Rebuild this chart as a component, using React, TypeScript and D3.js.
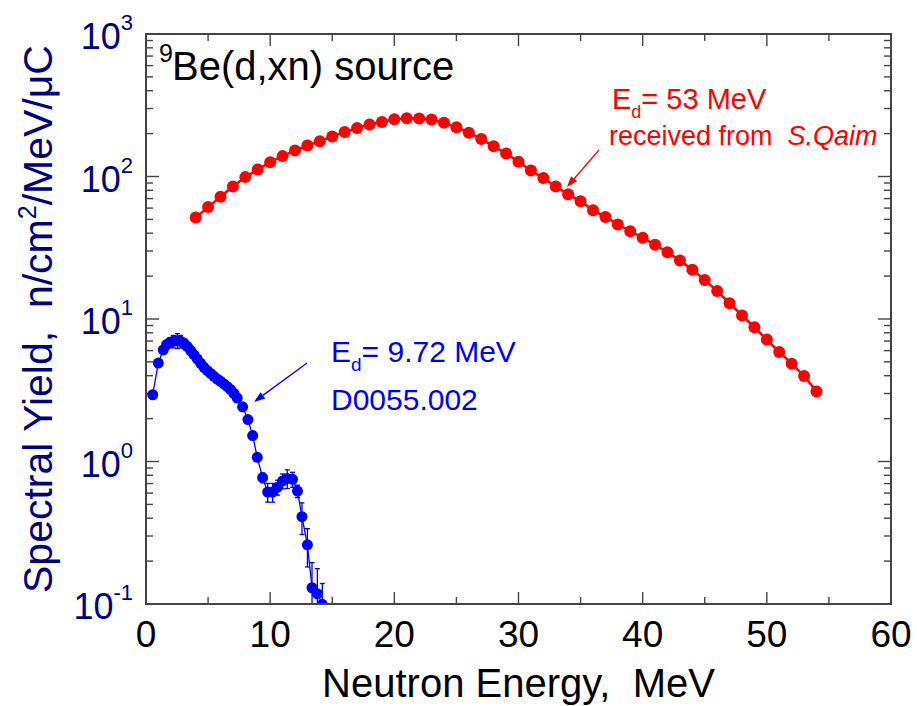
import React from 'react';
import * as d3 from 'd3';

// E_d = 53 MeV spectrum (received from S.Qaim)
const redEnergy = [4, 5, 6, 7, 8, 9, 10, 11, 12, 13, 14, 15, 16, 17, 18, 19, 20, 21, 22, 23, 24, 25, 26, 27, 28, 29,
  30, 31, 32, 33, 34, 35, 36, 37, 38, 39, 40, 41, 42, 43, 44, 45, 46, 47, 48, 49, 50, 51, 52, 53, 54];
const redYield = [51.6, 61, 72, 85, 99, 112, 126, 139, 152, 165, 177, 191, 205, 219, 232, 241, 252, 256, 255, 251,
  238, 222, 203, 183, 163, 145, 127, 110, 97.5, 85, 75, 67, 58, 52, 46.1, 41.3, 37.1, 33.2, 29.4, 25.7, 22.2, 18.8,
  15.7, 12.9, 10.6, 8.75, 7.17, 5.87, 4.86, 3.98, 3.1];

// E_d = 9.72 MeV, D0055.002
const blueEnergy = [0.54, 0.99, 1.39, 1.66, 1.93, 2.2, 2.52, 2.79, 3.06, 3.33, 3.6, 3.86, 4.13, 4.4, 4.67, 4.94, 5.21,
  5.47, 5.74, 6.01, 6.28, 6.55, 6.82, 7.09, 7.35, 7.78, 8.21, 8.59, 8.96, 9.39, 9.8, 10.2, 10.6, 11.0, 11.38, 11.8,
  12.2, 12.56, 13.0, 13.37, 13.8, 14.2];
const blueYield = [2.94, 4.91, 6.07, 6.61, 6.86, 6.97, 7.05, 6.97, 6.75, 6.4, 6.0, 5.62, 5.25, 4.89, 4.58, 4.34, 4.15,
  3.96, 3.79, 3.65, 3.5, 3.35, 3.19, 3.0, 2.79, 2.42, 1.97, 1.52, 1.07, 0.77, 0.61, 0.61, 0.66, 0.73, 0.76, 0.75,
  0.62, 0.41, 0.26, 0.13, 0.118, 0.0995];
// relative uncertainty of each blue point
const blueErr = [0.05, 0.04, 0.04, 0.05, 0.08, 0.1, 0.12, 0.1, 0.08, 0.05, 0.03, 0.03, 0.03, 0.03, 0.03, 0.03, 0.03,
  0.03, 0.03, 0.03, 0.03, 0.03, 0.03, 0.03, 0.03, 0.03, 0.03, 0.04, 0.06, 0.08, 0.15, 0.15, 0.12, 0.12, 0.15, 0.12,
  0.1, 0.25, 0.3, 0.5, 0.5, 0.4];

const xTicks = [0, 10, 20, 30, 40, 50, 60];
const xMinor = [5, 15, 25, 35, 45, 55];
const yDecades = [-1, 0, 1, 2, 3];

const W = 917;
const H = 706;
const left = 146, right = 891, top = 34, bottom = 604;
const font = '"Liberation Sans", Arial, Helvetica, sans-serif';
const navy = '#000080';
const frame = '#444';

const App = () => {
  const x = d3.scaleLinear().domain([0, 60]).range([left, right]);
  const y = d3.scaleLog().domain([0.1, 1000]).range([bottom, top]);

  const red = redEnergy.map((e, i) => ({ e, v: redYield[i] }));
  const blue = blueEnergy.map((e, i) => ({ e, v: blueYield[i], r: blueErr[i] }));

  const line = d3.line<{ e: number; v: number }>()
    .x(d => x(d.e))
    .y(d => y(d.v));

  // log minor ticks 2..9 in every decade
  const yMinor: number[] = [];
  yDecades.slice(0, -1).forEach(p => {
    for (let k = 2; k <= 9; k++) yMinor.push(k * Math.pow(10, p));
  });

  const arrow = (x1: number, y1: number, x2: number, y2: number, color: string) => {
    const ang = Math.atan2(y2 - y1, x2 - x1);
    const len = 11, hw = 4;
    const bx = x2 - len * Math.cos(ang), by = y2 - len * Math.sin(ang);
    const px = -Math.sin(ang) * hw, py = Math.cos(ang) * hw;
    return (
      <g>
        <line x1={x1} y1={y1} x2={bx} y2={by} stroke={color} strokeWidth={1.3} />
        <path d={`M${x2},${y2}L${bx + px},${by + py}L${bx - px},${by - py}Z`} fill={color} />
      </g>
    );
  };

  return (
    <svg width={W} height={H} style={{ position: 'absolute', left: 0, top: 0, background: '#fff' }}
      fontFamily={font}>
      <defs>
        <clipPath id="plot">
          <rect x={left} y={top} width={right - left} height={bottom - top} />
        </clipPath>
      </defs>
      <rect x={0} y={0} width={W} height={H} fill="#fff" />

      {/* ticks */}
      <g stroke={frame} strokeWidth={1.4}>
        {xTicks.map(t => (
          <g key={'xt' + t}>
            <line x1={x(t)} x2={x(t)} y1={bottom} y2={bottom - 12} />
            <line x1={x(t)} x2={x(t)} y1={top} y2={top + 12} />
          </g>
        ))}
        {xMinor.map(t => (
          <g key={'xm' + t}>
            <line x1={x(t)} x2={x(t)} y1={bottom} y2={bottom - 7} />
            <line x1={x(t)} x2={x(t)} y1={top} y2={top + 7} />
          </g>
        ))}
        {yDecades.map(p => (
          <g key={'yt' + p}>
            <line x1={left} x2={left + 13} y1={y(Math.pow(10, p))} y2={y(Math.pow(10, p))} />
            <line x1={right} x2={right - 13} y1={y(Math.pow(10, p))} y2={y(Math.pow(10, p))} />
          </g>
        ))}
        {yMinor.map((v, i) => (
          <g key={'ym' + i}>
            <line x1={left} x2={left + 7} y1={y(v)} y2={y(v)} />
            <line x1={right} x2={right - 7} y1={y(v)} y2={y(v)} />
          </g>
        ))}
      </g>

      {/* data */}
      <g clipPath="url(#plot)">
        <path d={line(red) || ''} fill="none" stroke="#ff0000" strokeWidth={2.5} />
        {red.map((d, i) => (
          <circle key={'r' + i} cx={x(d.e)} cy={y(d.v)} r={6} fill="#ff0000" />
        ))}

        <path d={line(blue) || ''} fill="none" stroke="#0000ff" strokeWidth={1.3} />
        {blue.map((d, i) => {
          const y1 = y(d.v * (1 + d.r));
          const y2 = y(Math.max(d.v * (1 - d.r), 0.01));
          const cx = x(d.e);
          return (
            <g key={'be' + i} stroke="#0000ff" strokeWidth={1.3}>
              <line x1={cx} x2={cx} y1={y1} y2={y2} />
              <line x1={cx - 2.5} x2={cx + 2.5} y1={y1} y2={y1} />
              <line x1={cx - 2.5} x2={cx + 2.5} y1={y2} y2={y2} />
            </g>
          );
        })}
        {blue.map((d, i) => (
          <circle key={'b' + i} cx={x(d.e)} cy={y(d.v)} r={5.5} fill="#0000ff" />
        ))}
      </g>

      {/* frame */}
      <rect x={left} y={top} width={right - left} height={bottom - top} fill="none" stroke={frame} strokeWidth={2} />

      {/* x tick labels */}
      {xTicks.map(t => (
        <text key={'xl' + t} x={x(t)} y={647} textAnchor="middle" fontSize={37} fill="#000">{t}</text>
      ))}
      <text x={(left + right) / 2} y={697} textAnchor="middle" fontSize={40} fill="#000"
        style={{ whiteSpace: 'pre' }}>{'Neutron Energy,  MeV'}</text>

      {/* y tick labels */}
      {yDecades.map(p => (
        <text key={'yl' + p} x={133} y={y(Math.pow(10, p)) + 15} textAnchor="end" fill={navy} fontSize={36}>
          <tspan>10</tspan>
          <tspan fontSize={22} dy={-19}>{p}</tspan>
        </text>
      ))}
      <text transform={`translate(52,${(top + bottom) / 2}) rotate(-90)`} textAnchor="middle" fontSize={41}
        fill={navy} style={{ whiteSpace: 'pre' }}>
        <tspan>{'Spectral Yield,  n/cm'}</tspan>
        <tspan fontSize={25} dy={-16}>2</tspan>
        <tspan dy={16}>{'/MeV/\u03bcC'}</tspan>
      </text>

      {/* title */}
      <text x={159} y={62} fontSize={25} fill="#000">9</text>
      <text x={172} y={80} fontSize={40} fill="#000">Be(d,xn) source</text>

      {/* blue annotation */}
      <text x={331} y={362} fontSize={30} fill="#0000ff">
        <tspan>E</tspan>
        <tspan fontSize={19} dy={9}>d</tspan>
        <tspan dy={-9}>= 9.72 MeV</tspan>
      </text>
      <text x={331} y={410} fontSize={30} fill="#0000ff">D0055.002</text>
      {arrow(x(12.97), y(4.91), x(8.7), y(2.62), '#0000ff')}

      {/* red annotation */}
      <text x={612} y={109} fontSize={29} fill="#ff0000">
        <tspan>E</tspan>
        <tspan fontSize={18} dy={9}>d</tspan>
        <tspan dy={-9}>= 53 MeV</tspan>
      </text>
      <text x={609} y={145} fontSize={27} fill="#ff0000" style={{ whiteSpace: 'pre' }}>
        <tspan>{'received from  '}</tspan>
        <tspan fontStyle="italic">S.Qaim</tspan>
      </text>
      {arrow(x(36.48), y(153.5), x(33.9), y(84.3), '#ff0000')}
    </svg>
  );
};

export default App;
